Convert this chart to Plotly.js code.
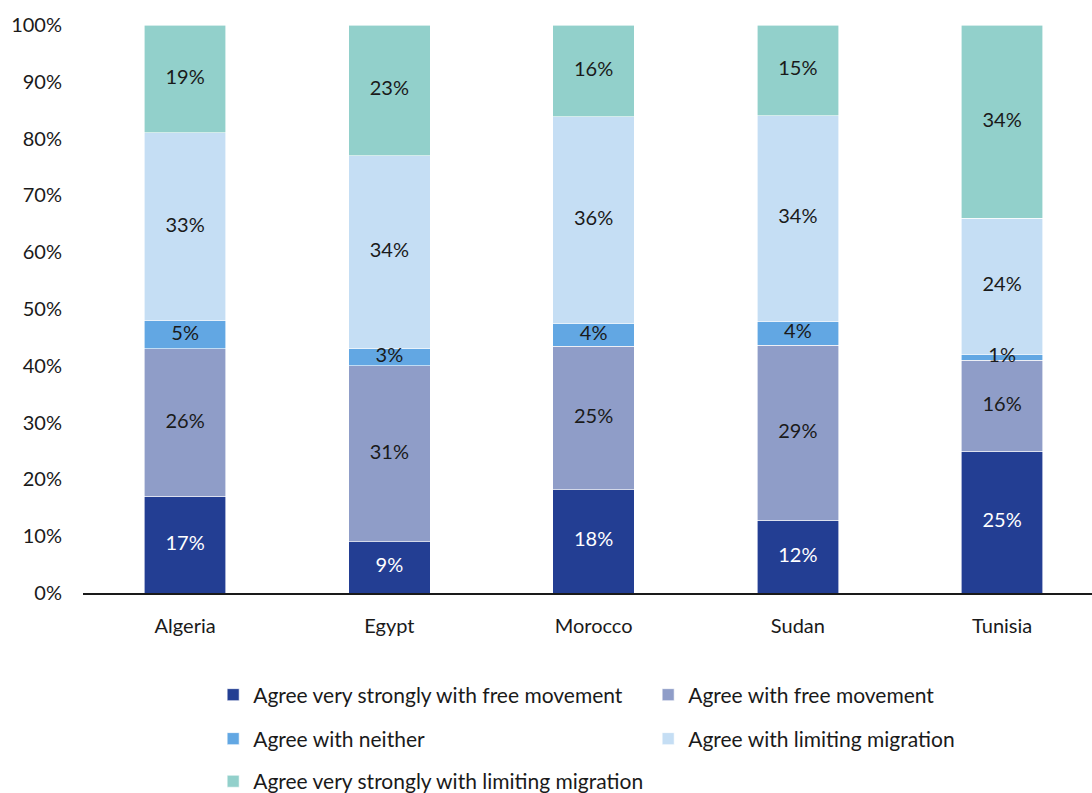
<!DOCTYPE html>
<html>
<head>
<meta charset="utf-8">
<script src="https://cdn.plot.ly/plotly-3.0.1.min.js"></script>
<style>html,body{margin:0;padding:0;background:#fff;}#chart{width:1092px;height:793px;}</style>
</head>
<body>
<div id="chart"></div>
<script>
const countries = ["Algeria", "Egypt", "Morocco", "Sudan", "Tunisia"];
const seriesNames = [
  "Agree very strongly with free movement",
  "Agree with free movement",
  "Agree with neither",
  "Agree with limiting migration",
  "Agree very strongly with limiting migration"
];
const veryStrongFree = [17, 9, 18, 12, 25];
const agreeFree = [26, 31, 25, 29, 16];
const neither = [5, 3, 4, 4, 1];
const agreeLimit = [33, 34, 36, 34, 24];
const veryStrongLimit = [19, 23, 16, 15, 34];
const yTickValues = [0, 10, 20, 30, 40, 50, 60, 70, 80, 90, 100];

const colors = ["#233E93", "#8F9DC8", "#62A7E3", "#C5DEF4", "#92D0CB"];
const textColors = ["#ffffff", "#1a1a1a", "#1a1a1a", "#1a1a1a", "#1a1a1a"];
const legendIds = ["legend", "legend", "legend2", "legend2", "legend3"];
const allSeries = [veryStrongFree, agreeFree, neither, agreeLimit, veryStrongLimit];
const FONT = "Lato, 'Open Sans', sans-serif";

const barTraces = allSeries.map((vals, i) => ({
  type: "bar",
  name: seriesNames[i],
  x: countries,
  y: vals,
  marker: {color: colors[i], line: {color: "#ffffff", width: 0.6}},
  width: 0.4,
  hoverinfo: "skip",
  legend: legendIds[i]
}));

// labels drawn on top of all bars, at the middle of each normalised segment
const totals = countries.map((c, j) => allSeries.reduce((s, a) => s + a[j], 0));
const labelTraces = allSeries.map((vals, i) => ({
  type: "scatter",
  mode: "text",
  x: countries,
  y: vals.map((v, j) => {
    let before = 0;
    for (let k = 0; k < i; k++) before += allSeries[k][j];
    return (before + v / 2) / totals[j] * 100;
  }),
  text: vals.map(v => v + "%"),
  textposition: "middle center",
  textfont: {family: FONT, size: 20, color: textColors[i]},
  hoverinfo: "skip",
  showlegend: false,
  cliponaxis: false
}));

const legendBase = {
  orientation: "h",
  xanchor: "left",
  yanchor: "middle",
  x: 0.129,
  font: {family: FONT, size: 21, color: "#1a1a1a"},
  entrywidth: 390,
  entrywidthmode: "pixels",
  itemwidth: 30,
  bgcolor: "rgba(0,0,0,0)",
  traceorder: "normal"
};

const layout = {
  width: 1092,
  height: 793,
  margin: {l: 83, r: 0, t: 25, b: 200, autoexpand: false},
  paper_bgcolor: "#ffffff",
  plot_bgcolor: "#ffffff",
  barmode: "stack",
  barnorm: "percent",
  font: {family: FONT, size: 20, color: "#1a1a1a"},
  xaxis: {
    range: [-0.5, 4.44],
    showline: true,
    linecolor: "#1a1a1a",
    linewidth: 1.5,
    showgrid: false,
    zeroline: false,
    ticks: "",
    ticklabelstandoff: 14,
    tickfont: {family: FONT, size: 20, color: "#1a1a1a"}
  },
  yaxis: {
    range: [0, 100],
    tickvals: yTickValues,
    ticktext: yTickValues.map(v => v + "%"),
    showline: false,
    showgrid: false,
    zeroline: false,
    ticks: "",
    ticklabelstandoff: 20,
    tickfont: {family: FONT, size: 20, color: "#1a1a1a"}
  },
  legend: Object.assign({}, legendBase, {y: -0.1796}),
  legend2: Object.assign({}, legendBase, {y: -0.257}),
  legend3: Object.assign({}, legendBase, {y: -0.332}),
  showlegend: true
};

Plotly.newPlot("chart", barTraces.concat(labelTraces), layout, {displayModeBar: false, staticPlot: true});
</script>
</body>
</html>
